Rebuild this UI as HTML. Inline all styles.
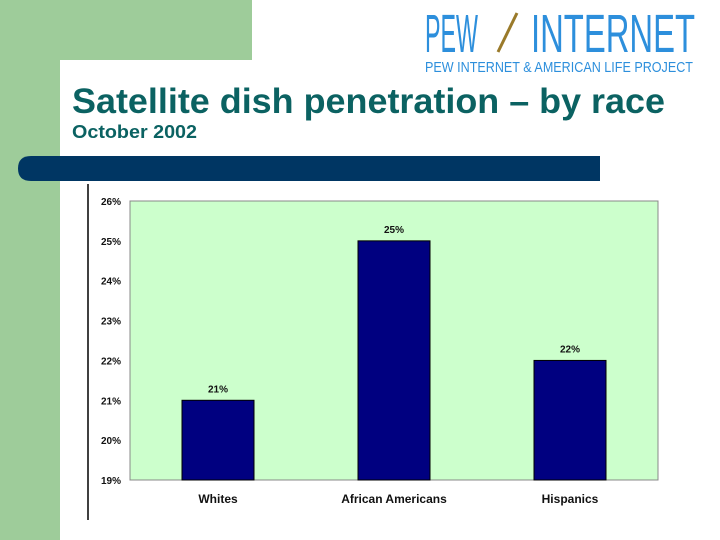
<!DOCTYPE html>
<html><head><meta charset="utf-8"><style>
html,body{margin:0;padding:0;background:#fff;width:720px;height:540px;overflow:hidden}
svg{display:block;font-family:"Liberation Sans",sans-serif}
</style></head><body>
<svg width="720" height="540" viewBox="0 0 720 540">
  <rect x="0" y="0" width="252" height="60" fill="#9ecc9a"/>
  <rect x="0" y="0" width="60" height="540" fill="#9ecc9a"/>
  <path d="M60,540 L60,84 Q60,60 84,60 L252,60 L252,0 L720,0 L720,540 Z" fill="#fff"/>
  <g>
    <text x="425" y="52" font-size="54" fill="#2d8fdc" textLength="53" lengthAdjust="spacingAndGlyphs">PEW</text>
    <line x1="498" y1="52" x2="517" y2="13" stroke="#9a7a2a" stroke-width="3"/>
    <text x="531" y="52" font-size="54" fill="#2d8fdc" textLength="164" lengthAdjust="spacingAndGlyphs">INTERNET</text>
    <text x="425" y="72" font-size="15" fill="#2d8fdc" textLength="268" lengthAdjust="spacingAndGlyphs">PEW INTERNET &amp; AMERICAN LIFE PROJECT</text>
  </g>
  <text x="72" y="113" font-size="35" font-weight="bold" fill="#0b6262" textLength="593" lengthAdjust="spacingAndGlyphs">Satellite dish penetration – by race</text>
  <text x="72" y="138" font-size="18" font-weight="bold" fill="#0b6262" textLength="125" lengthAdjust="spacingAndGlyphs">October 2002</text>
  <path d="M31,156 L600,156 L600,181 L31,181 Q18,181 18,168.5 Q18,156 31,156 Z" fill="#003663"/>
  <line x1="88" y1="184" x2="88" y2="520" stroke="#000" stroke-width="1.5"/>
  <g id="chart"></g>
</svg>
<script>
const categories = ["Whites", "African Americans", "Hispanics"];
const values = [21, 25, 22];
const valueLabels = ["21%", "25%", "22%"];
const yTicks = [19, 20, 21, 22, 23, 24, 25, 26];
const yTickLabels = ["19%", "20%", "21%", "22%", "23%", "24%", "25%", "26%"];

const NS = "http://www.w3.org/2000/svg";
const g = document.getElementById("chart");
const px0 = 130, px1 = 658, py0 = 480, py1 = 201, yMin = 19, yMax = 26;
const y = v => py0 - (v - yMin) / (yMax - yMin) * (py0 - py1);
const band = (px1 - px0) / categories.length;
const xc = i => px0 + band * (i + 0.5);
function mk(tag, attrs, parent) { const e = document.createElementNS(NS, tag); for (const k in attrs) e.setAttribute(k, attrs[k]); (parent || g).appendChild(e); return e; }

const plot = mk("rect", {x: px0, y: py1, width: px1 - px0, height: py0 - py1, fill: "#ccffcc", stroke: "#888", "stroke-width": 1});



yTicks.forEach((t, i) => {
  const tx = mk("text", {x: 121, y: y(t) + 4, "font-size": 10, "font-weight": "bold", "text-anchor": "end", fill: "#111"});
  tx.textContent = yTickLabels[i];
  
  
});

const bw = 72;
categories.forEach((c, i) => {
  const b = mk("rect", {x: xc(i) - bw / 2, y: y(values[i]), width: bw, height: y(yMin) - y(values[i]), fill: "#000080", stroke: "#000", "stroke-width": 1});
  
  
  const vl = mk("text", {x: xc(i), y: y(values[i]) - 8, "font-size": 10, "font-weight": "bold", "text-anchor": "middle", fill: "#111"});
  vl.textContent = valueLabels[i];
  
  
  const cl = mk("text", {x: xc(i), y: 503, "font-size": 12, "font-weight": "bold", "text-anchor": "middle", fill: "#111"});
  cl.textContent = c;
  
  
});
</script>
</body></html>
